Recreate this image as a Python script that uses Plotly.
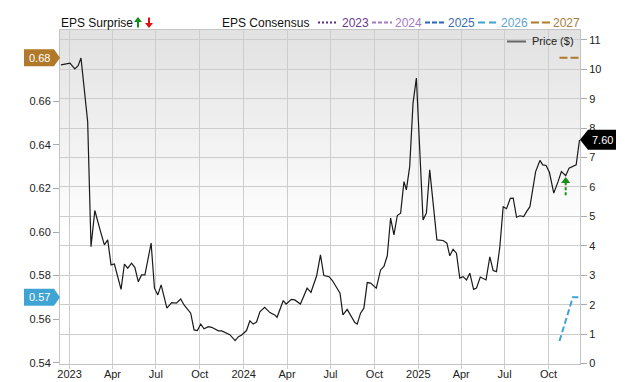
import plotly.graph_objects as go

# ---------------- data ----------------
price_dates = [
    "2022-12-14", "2023-01-02", "2023-01-12", "2023-01-19", "2023-01-25", "2023-02-08", "2023-02-15",
    "2023-02-23", "2023-03-06", "2023-03-15", "2023-03-22", "2023-03-29", "2023-04-05", "2023-04-19",
    "2023-04-26", "2023-05-03", "2023-05-11", "2023-05-18", "2023-05-25", "2023-06-01", "2023-06-08",
    "2023-06-21", "2023-06-28", "2023-07-05", "2023-07-12", "2023-07-24", "2023-08-03", "2023-08-13",
    "2023-08-22", "2023-08-29", "2023-09-12", "2023-09-19", "2023-09-26", "2023-10-03", "2023-10-10",
    "2023-10-19", "2023-10-26", "2023-11-09", "2023-11-16", "2023-12-03", "2023-12-14", "2023-12-21",
    "2023-12-28", "2024-01-07", "2024-01-14", "2024-01-21", "2024-01-28", "2024-02-04", "2024-02-14",
    "2024-02-25", "2024-03-06", "2024-03-11", "2024-03-24", "2024-03-30", "2024-04-10", "2024-04-17",
    "2024-04-29", "2024-05-13", "2024-05-21", "2024-06-02", "2024-06-10", "2024-06-17", "2024-06-28",
    "2024-07-05", "2024-07-21", "2024-07-27", "2024-08-05", "2024-08-14", "2024-08-21", "2024-08-26",
    "2024-09-02", "2024-09-09", "2024-09-16", "2024-09-23", "2024-10-05", "2024-10-14", "2024-10-21",
    "2024-10-28", "2024-11-04", "2024-11-11", "2024-11-18", "2024-11-25", "2024-12-02", "2024-12-07",
    "2024-12-14", "2024-12-21", "2024-12-28", "2025-01-11", "2025-01-18", "2025-01-25", "2025-02-09",
    "2025-02-22", "2025-03-02", "2025-03-08", "2025-03-15", "2025-03-22", "2025-03-29", "2025-04-05",
    "2025-04-12", "2025-04-19", "2025-04-27", "2025-05-03", "2025-05-11", "2025-05-23", "2025-05-31",
    "2025-06-07", "2025-06-14", "2025-06-21", "2025-06-28", "2025-07-05", "2025-07-13", "2025-07-19",
    "2025-07-26", "2025-08-02", "2025-08-10", "2025-08-16", "2025-08-23", "2025-09-04", "2025-09-13",
    "2025-09-19", "2025-09-26", "2025-10-03", "2025-10-12", "2025-10-21", "2025-10-28", "2025-11-06",
    "2025-11-13", "2025-11-28", "2025-12-05",
]
price_values = [
    10.15, 10.21, 10.01, 10.12, 10.38, 8.22, 3.97,
    5.20, 4.54, 4.03, 4.20, 3.35, 3.38, 2.52,
    3.38, 3.24, 3.41, 3.26, 2.78, 3.01, 3.01,
    4.09, 2.56, 2.33, 2.67, 1.88, 2.07, 2.05,
    2.19, 1.99, 1.71, 1.14, 1.12, 1.34, 1.18,
    1.25, 1.23, 1.11, 1.11, 0.98, 0.78, 0.91,
    0.97, 1.12, 1.45, 1.34, 1.41, 1.76, 1.91,
    1.73, 1.65, 1.57, 2.14, 2.02, 2.18, 2.16,
    2.02, 2.56, 2.42, 2.98, 3.69, 2.99, 2.95,
    2.82, 2.39, 1.65, 1.84, 1.59, 1.39, 1.34,
    1.71, 1.88, 2.75, 2.73, 2.56, 3.18, 3.30,
    3.66, 4.94, 4.37, 5.03, 5.11, 6.18, 5.90,
    6.69, 8.85, 9.70, 4.88, 5.11, 6.58, 4.20,
    4.18, 4.09, 3.66, 3.88, 3.75, 2.90, 2.95,
    2.84, 3.07, 2.52, 2.56, 2.94, 2.84, 3.62,
    3.16, 3.12, 3.97, 5.33, 5.26, 5.61, 5.62,
    4.97, 5.02, 4.99, 5.16, 5.33, 6.52, 6.90,
    6.75, 6.73, 6.49, 5.79, 6.18, 6.52, 6.38,
    6.64, 6.75, 7.60,
]

eps2026_dates = ["2025-10-24", "2025-11-21", "2025-12-04"]
eps2026_values = [0.55, 0.57, 0.57]
eps2027_dates = ["2025-10-24", "2025-12-04"]
eps2027_values = [0.68, 0.68]

surprise_dates = ["2025-11-06"]
surprise_tail = [5.72]
surprise_head = [6.20]

x_tick_vals = ["2023-01-01", "2023-04-01", "2023-07-01", "2023-10-01",
               "2024-01-01", "2024-04-01", "2024-07-01", "2024-10-01",
               "2025-01-01", "2025-04-01", "2025-07-01", "2025-10-01"]
x_tick_text = ["2023", "Apr", "Jul", "Oct", "2024", "Apr", "Jul", "Oct", "2025", "Apr", "Jul", "Oct"]
price_ticks = [0, 1, 2, 3, 4, 5, 6, 7, 8, 9, 10, 11]
eps_ticks = [0.54, 0.56, 0.58, 0.60, 0.62, 0.64, 0.66]

legend_years = ["2023", "2024", "2025", "2026", "2027"]
legend_colors = ["#5c2d84", "#a47bc0", "#2566b5", "#3fa3d4", "#b07a2a"]
legend_text_colors = ["#6a3a8c", "#a07cbf", "#3a6cae", "#5ea5cf", "#a97d3c"]
legend_dashes = ["2px,2px", "4px,2px", "5px,2px", "7px,4px", "8px,3px"]

# ---------------- layout helpers (pixel -> paper) ----------------
L, R, T, B = 60, 580, 30, 364
def px(x):
    return (x - L) / (R - L)
def py(y):
    return (B - y) / (B - T)

FONT = "Liberation Sans, Arial, Helvetica, sans-serif"

fig = go.Figure()

# price line (primary y, right side)
fig.add_trace(go.Scatter(x=price_dates, y=price_values, mode="lines",
                         line=dict(color="#1a1a1a", width=1.2), yaxis="y",
                         hoverinfo="skip"))

# EPS consensus lines (left axis)
fig.add_trace(go.Scatter(x=eps2026_dates, y=eps2026_values, mode="lines",
                         line=dict(color=legend_colors[3], width=2, dash="6px,3px"), yaxis="y2"))
fig.add_trace(go.Scatter(x=eps2027_dates, y=eps2027_values, mode="lines",
                         line=dict(color=legend_colors[4], width=2, dash="8px,3px"), yaxis="y2"))

# EPS surprise arrow
for d, t, h in zip(surprise_dates, surprise_tail, surprise_head):
    fig.add_trace(go.Scatter(x=[d, d], y=[t, h], mode="lines",
                             line=dict(color="#1a8c1a", width=2, dash="3px,2px"), yaxis="y"))
    fig.add_trace(go.Scatter(x=[d], y=[h], mode="markers",
                             marker=dict(symbol="triangle-up", size=8, color="#1a8c1a"), yaxis="y"))

shapes = []
# background gradient strips
N = 40
g_top, g_bot = 30, 230
for i in range(N):
    y0 = g_top + (g_bot - g_top) * i / N
    y1 = g_top + (g_bot - g_top) * (i + 1) / N
    c = int(226 + (255 - 226) * (i + 0.5) / N)
    shapes.append(dict(type="rect", xref="paper", yref="paper", x0=0, x1=1,
                       y0=py(y1), y1=py(y0), line=dict(width=0),
                       fillcolor=f"rgb({c},{c},{c})", layer="below"))

annotations = []

# top legend: EPS Surprise
annotations.append(dict(x=px(59), y=py(23), xref="paper", yref="paper", text="EPS Surprise",
                        showarrow=False, xanchor="left", yanchor="middle",
                        font=dict(family=FONT, size=12, color="#111")))
# green up arrow
shapes.append(dict(type="path", xref="paper", yref="paper",
                   path=f"M {px(134)},{py(22)} L {px(142)},{py(22)} L {px(138)},{py(17)} Z",
                   fillcolor="#10901a", line=dict(width=0)))
shapes.append(dict(type="line", xref="paper", yref="paper", x0=px(138), x1=px(138),
                   y0=py(21.5), y1=py(27.5), line=dict(color="#10901a", width=2)))
# red down arrow
shapes.append(dict(type="path", xref="paper", yref="paper",
                   path=f"M {px(145)},{py(23)} L {px(153)},{py(23)} L {px(149)},{py(28)} Z",
                   fillcolor="#e01010", line=dict(width=0)))
shapes.append(dict(type="line", xref="paper", yref="paper", x0=px(149), x1=px(149),
                   y0=py(17.5), y1=py(23.5), line=dict(color="#e01010", width=2)))

annotations.append(dict(x=px(220), y=py(23), xref="paper", yref="paper", text="EPS Consensus",
                        showarrow=False, xanchor="left", yanchor="middle",
                        font=dict(family=FONT, size=12, color="#111")))

leg_line_x = [(318, 336), (372, 392), (425, 445), (478, 498), (531, 551)]
leg_text_x = [340, 393, 446, 499, 551]
for yr, col, tcol, dsh, (a, b), tx in zip(legend_years, legend_colors, legend_text_colors,
                                          legend_dashes, leg_line_x, leg_text_x):
    shapes.append(dict(type="line", xref="paper", yref="paper", x0=px(a), x1=px(b),
                       y0=py(22.5), y1=py(22.5), line=dict(color=col, width=2.2, dash=dsh)))
    annotations.append(dict(x=px(tx), y=py(23), xref="paper", yref="paper", text=yr,
                            showarrow=False, xanchor="left", yanchor="middle",
                            font=dict(family=FONT, size=12, color=tcol)))

# Price legend inside plot
shapes.append(dict(type="line", xref="paper", yref="paper", x0=px(507), x1=px(526),
                   y0=py(41.5), y1=py(41.5), line=dict(color="#666", width=2)))
annotations.append(dict(x=px(530), y=py(41.5), xref="paper", yref="paper", text="Price ($)",
                        showarrow=False, xanchor="left", yanchor="middle",
                        font=dict(family=FONT, size=11, color="#222")))

# value tags on left axis (EPS) and right axis (price)
def left_tag(value, color):
    shapes.append(dict(type="path", xref="paper", yref="y2", xsizemode="pixel", ysizemode="pixel",
                       xanchor=0, yanchor=value,
                       path="M -36,-8.5 L -6,-8.5 L 0,0 L -6,8.5 L -36,8.5 Z",
                       fillcolor=color, line=dict(width=0), layer="above"))
    annotations.append(dict(x=0, y=value, xref="paper", yref="y2", text=f"{value:.2f}",
                            showarrow=False, xanchor="center", yanchor="middle", xshift=-21,
                            font=dict(family=FONT, size=11, color="white")))

left_tag(eps2027_values[-1], "#b07a2a")
left_tag(eps2026_values[-1], "#3fa3d4")

last_price = price_values[-1]
shapes.append(dict(type="path", xref="paper", yref="y", xsizemode="pixel", ysizemode="pixel",
                   xanchor=1, yanchor=last_price,
                   path="M 0,0 L 8,-10 L 36,-10 L 36,10 L 8,10 Z",
                   fillcolor="#000", line=dict(width=0), layer="above"))
annotations.append(dict(x=1, y=last_price, xref="paper", yref="y", text=f"{last_price:.2f}",
                        showarrow=False, xanchor="center", yanchor="middle", xshift=22,
                        font=dict(family=FONT, size=11, color="white")))

grid = "#cdcdcd"
fig.update_layout(
    width=640, height=382,
    margin=dict(l=L, r=640 - R, t=T, b=382 - B),
    plot_bgcolor="white", paper_bgcolor="white",
    showlegend=False,
    font=dict(family=FONT, size=11, color="#222"),
    shapes=shapes, annotations=annotations,
    xaxis=dict(type="date", range=["2022-12-12", "2025-12-06"],
               tickvals=x_tick_vals, ticktext=x_tick_text,
               showgrid=True, gridcolor=grid, gridwidth=1,
               ticks="outside", ticklen=4, tickcolor=grid,
               ticklabelstandoff=-4,
               showline=True, linecolor="#c4c4c4", mirror=True,
               zeroline=False, automargin=False,
               tickfont=dict(family=FONT, size=11, color="#222")),
    yaxis=dict(side="right", range=[-0.017, 11.333], tickvals=price_ticks,
               showgrid=True, gridcolor=grid, gridwidth=1,
               ticks="outside", ticklen=6, tickcolor="#aaa",
               showline=True, linecolor="#c4c4c4", mirror=True,
               zeroline=False, automargin=False,
               tickfont=dict(family=FONT, size=11, color="#222")),
    yaxis2=dict(side="left", overlaying="y", range=[0.5394, 0.6928], tickvals=eps_ticks,
                tickformat=".2f", showgrid=False,
                ticks="outside", ticklen=6, tickcolor="#aaa",
                showline=False, zeroline=False, automargin=False,
                tickfont=dict(family=FONT, size=11, color="#222")),
)

fig.write_html("out.html")
